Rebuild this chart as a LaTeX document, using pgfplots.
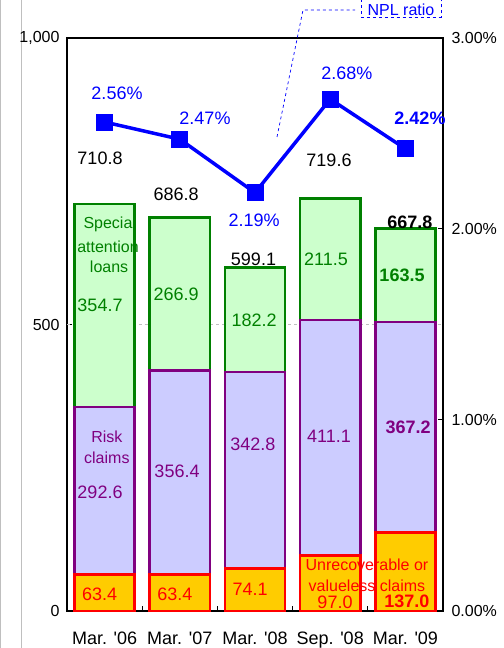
\documentclass[border=0pt]{standalone}
\usepackage{fontspec}
\setmainfont{Liberation Sans}
\usepackage{pgfplots}
\pgfplotsset{compat=1.18}
\definecolor{npblue}{HTML}{0000FF}
\definecolor{gfill}{HTML}{CCFFCC}
\definecolor{gedge}{HTML}{008000}
\definecolor{pfill}{HTML}{CCCCFF}
\definecolor{pedge}{HTML}{800080}
\definecolor{yfill}{HTML}{FFCC00}
\definecolor{redge}{HTML}{FF0000}
\begin{document}
\begin{tikzpicture}[x=1bp,y=1bp,
  vlab/.style={font=\fontsize{18bp}{21bp}\selectfont, inner sep=0pt},
  blab/.style={font=\fontsize{18bp}{21bp}\selectfont\bfseries, inner sep=0pt},
  tlab/.style={font=\fontsize{16bp}{20bp}\selectfont, inner sep=0pt, align=center}]
\draw[gray!50, line width=1bp] (-45,-40) -- (-45,620);
\draw[gray!50, line width=1bp] (-66.5,-40) -- (-66.5,620);
\begin{axis}[
  at={(0,0)}, anchor=south west,
  scale only axis, width=376bp, height=573bp,
  xmin=-0.5, xmax=4.5, ymin=0, ymax=1000,
  ybar stacked, bar width=0.8,
  clip=false,
  axis line style={black, line width=1.3bp},
  xtick={0,1,2,3,4},
  xticklabels={Mar. \textquotesingle06, Mar. \textquotesingle07, Mar. \textquotesingle08, Sep. \textquotesingle08, Mar. \textquotesingle09},
  major x tick style={draw=none},
  minor xtick={0.5,1.5,2.5,3.5},
  minor x tick style={black, line width=1bp},
  minor tick length=5bp,
  xtick pos=bottom, ytick pos=left,
  ytick={0,500,1000}, yticklabels={0,500,{1,000}},
  major tick length=5bp,
  y tick style={black, line width=1bp},
  tick align=inside,
  extra y ticks={500}, extra y tick labels={},
  extra y tick style={grid=major, major grid style={dashed, gray!50, line width=0.8bp}, major tick length=0pt},
  xticklabel style={font=\fontsize{18bp}{21bp}\selectfont, yshift=-17bp},
  yticklabel style={font=\fontsize{16bp}{20bp}\selectfont, xshift=-4bp},
]
\addplot[fill=yfill, draw=redge, line width=2.5bp] coordinates {(0,63.4) (1,63.4) (2,74.1) (3,97.0) (4,137.0)};
\addplot[fill=pfill, draw=pedge, line width=2.5bp] coordinates {(0,292.6) (1,356.4) (2,342.8) (3,411.1) (4,367.2)};
\addplot[fill=gfill, draw=gedge, line width=2.5bp] coordinates {(0,354.7) (1,266.9) (2,182.2) (3,211.5) (4,163.5)};
\end{axis}
\begin{axis}[
  at={(0,0)}, anchor=south west,
  scale only axis, width=376bp, height=573bp,
  xmin=-0.5, xmax=4.5, ymin=0, ymax=3,
  axis x line=none, axis y line*=right,
  axis line style={black, line width=1.3bp},
  ytick={0,1,2,3}, yticklabels={0.00\%,1.00\%,2.00\%,3.00\%},
  tick align=inside, major tick length=5bp,
  y tick style={black, line width=1bp},
  yticklabel style={font=\fontsize{16bp}{20bp}\selectfont, xshift=5bp},
  clip=false,
]
\addplot[npblue, line width=3.5bp, mark=square*, mark size=8bp, mark options={solid, line width=1bp}] coordinates {(0,2.56) (1,2.47) (2,2.19) (3,2.68) (4,2.42)};
% totals
\node[vlab, black] at (axis cs:-0.061,2.37) {710.8};
\node[vlab, black] at (axis cs:0.95,2.184) {686.8};
\node[vlab, black] at (axis cs:1.98,1.842) {599.1};
\node[vlab, black] at (axis cs:2.984,2.361) {719.6};
\node[blab, black] at (axis cs:4.06,2.037) {667.8};
% special attention
\node[vlab, gedge] at (axis cs:-0.061,1.602) {354.7};
\node[vlab, gedge] at (axis cs:0.95,1.659) {266.9};
\node[vlab, gedge] at (axis cs:1.987,1.524) {182.2};
\node[vlab, gedge] at (axis cs:2.944,1.842) {211.5};
\node[blab, gedge] at (axis cs:3.955,1.755) {163.5};
% risk claims
\node[vlab, pedge] at (axis cs:-0.061,0.624) {292.6};
\node[vlab, pedge] at (axis cs:0.963,0.729) {356.4};
\node[vlab, pedge] at (axis cs:1.973,0.873) {342.8};
\node[vlab, pedge] at (axis cs:2.984,0.912) {411.1};
\node[blab, pedge] at (axis cs:4.035,0.963) {367.2};
% unrecoverable
\node[vlab, redge] at (axis cs:-0.065,0.09) {63.4};
\node[vlab, redge] at (axis cs:0.936,0.09) {63.4};
\node[vlab, redge] at (axis cs:1.934,0.111) {74.1};
\node[vlab, redge] at (axis cs:3.064,0.048) {97.0};
\node[blab, redge] at (axis cs:4.021,0.051) {137.0};
% NPL ratio labels
\node[vlab, npblue] at (axis cs:0.165,2.712) {2.56\%};
\node[vlab, npblue] at (axis cs:1.335,2.58) {2.47\%};
\node[vlab, npblue] at (axis cs:1.987,2.046) {2.19\%};
\node[vlab, npblue] at (axis cs:3.223,2.817) {2.68\%};
\node[blab, npblue] at (axis cs:4.194,2.58) {2.42\%};
% series names
\node[tlab, gedge] at (axis cs:0.045,2.022) {Specia};
\node[tlab, gedge] at (axis cs:0.045,1.905) {attention};
\node[tlab, gedge] at (axis cs:0.06,1.803) {loans};
\node[tlab, pedge] at (axis cs:0.03,0.912) {Risk};
\node[tlab, pedge] at (axis cs:0.03,0.801) {claims};
\node[tlab, redge] at (axis cs:3.489,0.24) {Unrecoverable or};
\node[tlab, redge] at (axis cs:3.489,0.132) {valueless claims};
\end{axis}
% NPL ratio callout
\draw[npblue, dashed, line width=0.7bp] (210,474) -- (236,601) -- (288,601);
\draw[npblue, dashed, line width=0.7bp] (294,630) -- (294,594) -- (374,594) -- (374,630);
\node[npblue, font=\fontsize{16bp}{20bp}\selectfont, inner sep=0pt, anchor=base] at (334,595) {NPL ratio};
\pgfresetboundingbox
\useasboundingbox (-67,-37) rectangle (437,611);
\end{tikzpicture}
\end{document}
